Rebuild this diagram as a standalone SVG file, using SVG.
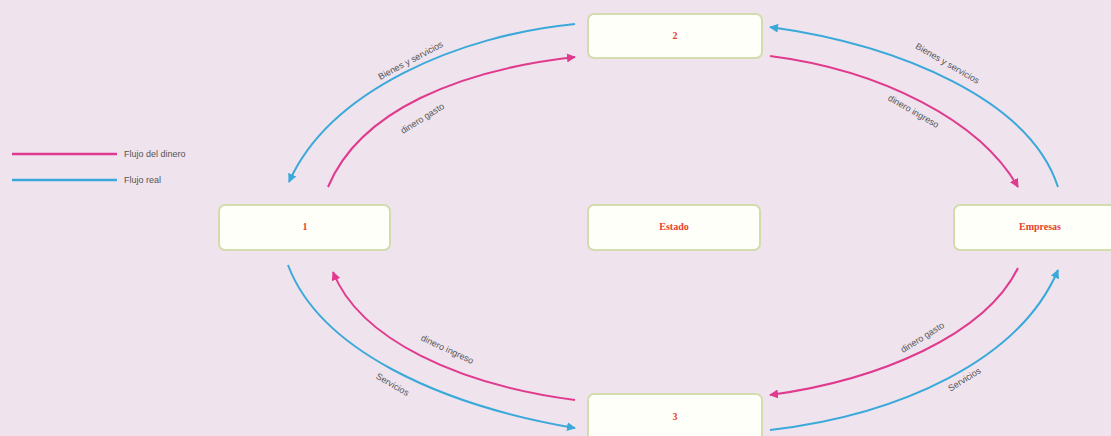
<svg xmlns="http://www.w3.org/2000/svg" width="1111" height="436" viewBox="0 0 1111 436">
<defs>
<style>
.box{fill:#fffffa;stroke:#d3dcac;stroke-width:2}
.nl{font-family:"Liberation Serif",serif;font-weight:bold;font-size:10px;fill:#e8402e;text-anchor:middle}
.pk{fill:none;stroke:#df3a8e;stroke-width:2}
.bl{fill:none;stroke:#3aa9da;stroke-width:2}
.lb{font-family:"Liberation Sans",sans-serif;font-size:9px;fill:#555;text-anchor:middle}
.lg{font-family:"Liberation Sans",sans-serif;font-size:9px;fill:#555}
</style>
<marker id="ap" viewBox="0 0 10 10" refX="9" refY="5" markerWidth="9" markerHeight="9" orient="auto" markerUnits="userSpaceOnUse"><path d="M0,0L10,5L0,10z" fill="#df3a8e"/></marker>
<marker id="ab" viewBox="0 0 10 10" refX="9" refY="5" markerWidth="9" markerHeight="9" orient="auto" markerUnits="userSpaceOnUse"><path d="M0,0L10,5L0,10z" fill="#3aa9da"/></marker>
</defs>
<rect width="1111" height="436" fill="#efe3ed"/>
<g id="legend">
<line x1="12" y1="154" x2="117" y2="154" stroke="#df3a8e" stroke-width="2.5"/>
<text class="lg" x="124" y="157">Flujo del dinero</text>
<line x1="12" y1="180" x2="117" y2="180" stroke="#3aa9da" stroke-width="2.5"/>
<text class="lg" x="124" y="183">Flujo real</text>
</g>
<g id="connectors">
<path class="bl" d="M575,24 C460,35 330,90 289,182" marker-end="url(#ab)"/>
<path class="pk" d="M328,187 C360,110 460,70 575,57" marker-end="url(#ap)"/>
<path class="bl" d="M1058,187 C1030,100 900,45 770,27" marker-end="url(#ab)"/>
<path class="pk" d="M770,56 C880,70 980,120 1018,187" marker-end="url(#ap)"/>
<path class="pk" d="M575,400 C460,385 360,340 333,272" marker-end="url(#ap)"/>
<path class="bl" d="M288,265 C320,350 440,405 575,428" marker-end="url(#ab)"/>
<path class="pk" d="M1018,268 C985,335 880,380 770,395" marker-end="url(#ap)"/>
<path class="bl" d="M770,430 C900,415 1020,360 1058,270" marker-end="url(#ab)"/>
</g>
<g id="edge-labels">
<text class="lb" transform="translate(412,63) rotate(-28)">Bienes y servicios</text>
<text class="lb" transform="translate(424,121) rotate(-32)">dinero gasto</text>
<text class="lb" transform="translate(946,66) rotate(30)">Bienes y servicios</text>
<text class="lb" transform="translate(912,114) rotate(30)">dinero ingreso</text>
<text class="lb" transform="translate(446,352) rotate(25)">dinero ingreso</text>
<text class="lb" transform="translate(391,387) rotate(30)">Servicios</text>
<text class="lb" transform="translate(924,340) rotate(-32)">dinero gasto</text>
<text class="lb" transform="translate(966,382) rotate(-32)">Servicios</text>
</g>
<g id="node-2"><rect class="box" x="588" y="14" width="174" height="44" rx="6"/><text class="nl" x="675" y="39">2</text></g>
<g id="node-1"><rect class="box" x="219" y="205" width="171" height="45" rx="6"/><text class="nl" x="305" y="230">1</text></g>
<g id="node-estado"><rect class="box" x="588" y="205" width="172" height="45" rx="6"/><text class="nl" x="674" y="230">Estado</text></g>
<g id="node-empresas"><rect class="box" x="954" y="205" width="170" height="45" rx="6"/><text class="nl" x="1040" y="230">Empresas</text></g>
<g id="node-3"><rect class="box" x="588" y="394" width="174" height="50" rx="6"/><text class="nl" x="675" y="420">3</text></g>
</svg>
